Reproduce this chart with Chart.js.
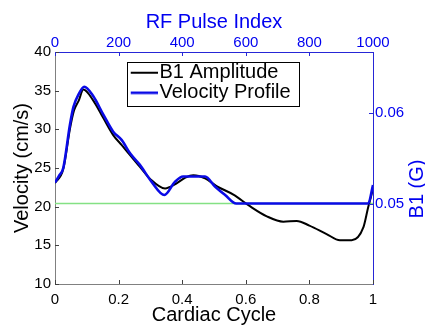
<!DOCTYPE html>
<html>
<head>
<meta charset="utf-8">
<script src="https://cdn.jsdelivr.net/npm/chart.js@4.4.1/dist/chart.umd.min.js"></script>
<style>
html,body{margin:0;padding:0;background:#ffffff;}
canvas{display:block;}
</style>
</head>
<body>
<canvas id="c" width="425" height="326"></canvas>
<script>
// ---- data ----
const cycleB1 = [0, 0.026, 0.047, 0.06, 0.075, 0.089, 0.12, 0.152, 0.183, 0.21, 0.236, 0.267, 0.30, 0.346, 0.38, 0.41, 0.435, 0.472, 0.508, 0.561, 0.613, 0.666, 0.718, 0.76, 0.80, 0.854, 0.896, 0.933, 0.97, 0.985, 0.996, 1.0];
const b1Amplitude = [0.0523, 0.05383, 0.05825, 0.06029, 0.06139, 0.06258, 0.06139, 0.05944, 0.05757, 0.05646, 0.05536, 0.05408, 0.05272, 0.0517, 0.05221, 0.05289, 0.05315, 0.05281, 0.05196, 0.05102, 0.04975, 0.04864, 0.04805, 0.04813, 0.04762, 0.04669, 0.04601, 0.04601, 0.04745, 0.04966, 0.05111, 0.05179];
const cycleVel = [0, 0.013, 0.026, 0.047, 0.058, 0.075, 0.092, 0.12, 0.152, 0.183, 0.21, 0.236, 0.267, 0.304, 0.344, 0.377, 0.403, 0.472, 0.503, 0.535, 0.57, 0.985, 1.0];
const velocity = [23.1, 24.0, 25.0, 30.6, 32.9, 34.6, 35.5, 34.3, 31.9, 29.7, 28.6, 26.9, 25.4, 23.2, 21.5, 23.2, 23.9, 23.9, 22.6, 21.5, 20.4, 20.4, 22.8];
const thresholdCycle = [0, 1];
const thresholdVelocity = [20.4, 20.4];

const cycleTicks = [0, 0.2, 0.4, 0.6, 0.8, 1];
const pulseTicks = [0, 200, 400, 600, 800, 1000];
const velocityTicks = [10, 15, 20, 25, 30, 35, 40];
const b1Ticks = [0.05, 0.06];
const seriesLabels = ['B1 Amplitude', 'Velocity Profile'];

// ---- styling ----
const FONT = "'Liberation Sans', Arial, Helvetica, sans-serif";
const BLUE = '#0000f0';
const AXIS_BLUE = '#2626d6';
const GRAY = '#808080';
const BLACK_LINE = '#000000';
const VEL_LINE = '#0a0ae6';
const GREEN = '#84e184';

function pts(xs, ys) { return xs.map((x, i) => ({x: x, y: ys[i]})); }

function lineSample(color, w) {
  const c = document.createElement('canvas');
  c.width = 35; c.height = 4;
  const g = c.getContext('2d');
  g.strokeStyle = color; g.lineWidth = w;
  g.beginPath(); g.moveTo(8, 2); g.lineTo(35, 2); g.stroke();
  return c;
}
const samples = [lineSample(BLACK_LINE, 2), lineSample(VEL_LINE, 2.6)];

const matlabLook = {
  id: 'matlabLook',
  afterLayout(chart) {
    const lg = chart.legend;
    if (!lg) return;
    lg.left = 130.5; lg.top = 62.7; lg.width = 168; lg.height = 44;
    lg.right = lg.left + lg.width; lg.bottom = lg.top + lg.height;
  },
  afterDraw(chart) {
    const ctx = chart.ctx;
    const ca = chart.chartArea;
    const len = 4;
    function ticks(scale, color) {
      ctx.save();
      ctx.strokeStyle = color; ctx.lineWidth = 1;
      ctx.beginPath();
      scale.ticks.forEach(t => {
        const p = Math.round(scale.getPixelForValue(t.value)) + 0.5;
        if (scale.position === 'bottom') { ctx.moveTo(p, ca.bottom); ctx.lineTo(p, ca.bottom - len); }
        else if (scale.position === 'top') { ctx.moveTo(p, ca.top); ctx.lineTo(p, ca.top + len); }
        else if (scale.position === 'left') { ctx.moveTo(ca.left, p); ctx.lineTo(ca.left + len, p); }
        else { ctx.moveTo(ca.right, p); ctx.lineTo(ca.right - len, p); }
      });
      ctx.stroke();
      ctx.restore();
    }
    ticks(chart.scales.x, '#404040');
    ticks(chart.scales.y, '#404040');
    ticks(chart.scales.x2, AXIS_BLUE);
    ticks(chart.scales.y2, AXIS_BLUE);

    // legend frame
    const lg = chart.legend;
    ctx.save();
    ctx.strokeStyle = '#000'; ctx.lineWidth = 1;
    ctx.strokeRect(Math.round(lg.left - 4) + 0.5, Math.round(lg.top) - 0.5, 172, 44);
    ctx.restore();

    // right axis title (reads bottom to top)
    ctx.save();
    ctx.translate(417.5, 189);
    ctx.rotate(-Math.PI / 2);
    ctx.font = '20px ' + FONT;
    ctx.fillStyle = BLUE;
    ctx.textAlign = 'center';
    ctx.textBaseline = 'middle';
    ctx.fillText('B1 (G)', 0, 0);
    ctx.restore();
  }
};

const tickFont = {family: FONT, size: 15};
const titleFont = {family: FONT, size: 20};

new Chart(document.getElementById('c'), {
  type: 'line',
  data: {
    datasets: [
      {
        label: seriesLabels[0],
        data: pts(cycleB1, b1Amplitude),
        xAxisID: 'x', yAxisID: 'y2',
        borderColor: BLACK_LINE, backgroundColor: BLACK_LINE,
        borderWidth: 2, pointRadius: 0, cubicInterpolationMode: 'monotone',
        order: 2
      },
      {
        label: seriesLabels[1],
        data: pts(cycleVel, velocity),
        xAxisID: 'x', yAxisID: 'y',
        borderColor: VEL_LINE, backgroundColor: VEL_LINE,
        borderWidth: 2.6, pointRadius: 0, cubicInterpolationMode: 'monotone',
        order: 1
      },
      {
        label: 'threshold',
        data: pts(thresholdCycle, thresholdVelocity),
        xAxisID: 'x', yAxisID: 'y',
        borderColor: GREEN, backgroundColor: GREEN,
        borderWidth: 1.6, pointRadius: 0,
        order: 3
      }
    ]
  },
  options: {
    responsive: false,
    animation: false,
    devicePixelRatio: 1,
    layout: {padding: 0},
    plugins: {
      tooltip: {enabled: false},
      legend: {
        position: 'chartArea',
        align: 'start',
        labels: {
          font: {family: FONT, size: 20},
          color: '#000',
          padding: 0,
          usePointStyle: true,
          pointStyleWidth: 19,
          generateLabels: (chart) => {
            const items = Chart.defaults.plugins.legend.labels.generateLabels(chart);
            return items.filter(i => i.datasetIndex < 2)
              .sort((a, b) => a.datasetIndex - b.datasetIndex)
              .map(i => {
                i.pointStyle = samples[i.datasetIndex];
                i.lineWidth = 0;
                i.fontColor = '#000';
                return i;
              });
          },
          sort: (a, b) => a.datasetIndex - b.datasetIndex
        }
      }
    },
    scales: {
      x: {
        type: 'linear', position: 'bottom', min: 0, max: 1,
        afterBuildTicks: s => { s.ticks = cycleTicks.map(v => ({value: v})); },
        afterFit: s => { s.height = 42; },
        grid: {display: false, drawTicks: false},
        border: {display: true, color: GRAY, width: 1},
        ticks: {font: tickFont, color: '#000', padding: 7, maxRotation: 0, autoSkip: false,
          callback: v => String(parseFloat(Number(v).toFixed(1)))},
        title: {display: true, text: 'Cardiac Cycle', font: titleFont, color: '#000', padding: {top: 0, bottom: -1}}
      },
      x2: {
        type: 'linear', position: 'top', min: 0, max: 1000,
        afterBuildTicks: s => { s.ticks = pulseTicks.map(v => ({value: v})); },
        afterFit: s => { s.height = 52; },
        grid: {display: false, drawTicks: false},
        border: {display: true, color: AXIS_BLUE, width: 1},
        ticks: {font: tickFont, color: BLUE, padding: 0, maxRotation: 0, autoSkip: false,
          callback: v => String(v)},
        title: {display: true, text: 'RF Pulse Index', font: titleFont, color: BLUE, padding: {top: 10, bottom: 0}}
      },
      y: {
        type: 'linear', position: 'left', min: 10, max: 40,
        afterBuildTicks: s => { s.ticks = velocityTicks.map(v => ({value: v})); },
        afterFit: s => { s.width = 55; },
        grid: {display: false, drawTicks: false},
        border: {display: true, color: GRAY, width: 1},
        ticks: {font: tickFont, color: '#000', padding: 4, autoSkip: false,
          callback: v => String(v)},
        title: {display: true, text: 'Velocity (cm/s)', font: titleFont, color: '#000', padding: {top: 10, bottom: 0}}
      },
      y2: {
        type: 'linear', position: 'right', min: 0.0412, max: 0.0667,
        afterBuildTicks: s => { s.ticks = b1Ticks.map(v => ({value: v})); },
        afterFit: s => { s.width = 52; },
        grid: {display: false, drawTicks: false},
        border: {display: true, color: AXIS_BLUE, width: 1},
        ticks: {font: tickFont, color: BLUE, padding: 2, autoSkip: false,
          callback: v => Number(v).toFixed(2)}
      }
    }
  },
  plugins: [matlabLook]
});
</script>
</body>
</html>
